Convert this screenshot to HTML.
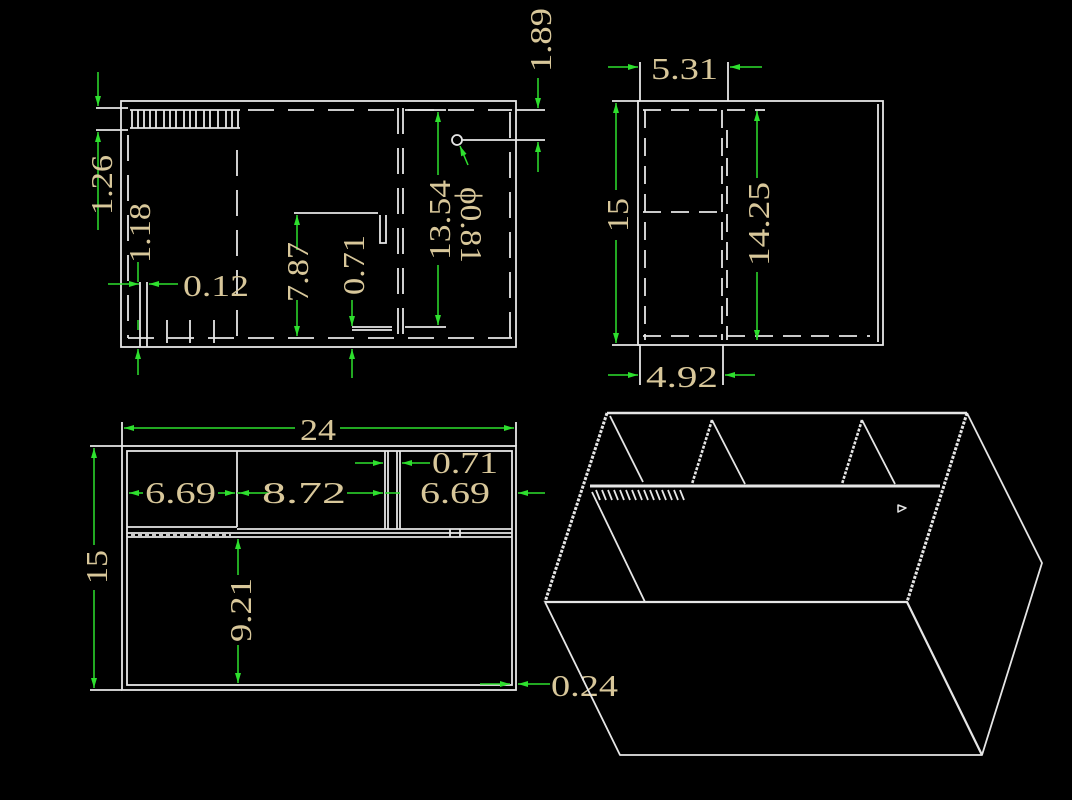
<!DOCTYPE html>
<html><head><meta charset="utf-8"><style>
html,body{margin:0;padding:0;background:#000;}
svg{display:block;}
text{font-family:"Liberation Serif",serif;fill:#d8c79a;font-size:31px;}
</style></head><body>
<svg width="1072" height="800" viewBox="0 0 1072 800" xmlns="http://www.w3.org/2000/svg">
<defs>
<marker id="a" viewBox="0 0 10 6" refX="10" refY="3" markerWidth="10" markerHeight="6" orient="auto-start-reverse" markerUnits="userSpaceOnUse"><path d="M0,0 L10,3 L0,6z" fill="#2ee02e"/></marker>
</defs>
<rect width="1072" height="800" fill="#000"/>

<!-- ===== TOP-LEFT VIEW ===== -->
<g stroke="#e6e6e6" stroke-width="1.8" fill="none">
<rect x="121" y="101" width="395" height="246"/>
<line x1="96" y1="108" x2="128" y2="108"/>
<line x1="96" y1="130" x2="128" y2="130"/>
<line x1="130" y1="110" x2="240" y2="110"/>
<line x1="130" y1="128" x2="240" y2="128"/>
<path d="M132,110v18M138,110v18M144,110v18M150,110v18M156,110v18M164,110v18M170,110v18M176,110v18M184,110v18M190,110v18M196,110v18M204,110v18M210,110v18M218,110v18M226,110v18M232,110v18M238,110v18"/>
<g stroke-dasharray="26,14">
<line x1="248" y1="110" x2="512" y2="110"/>
<line x1="128" y1="338" x2="512" y2="338"/>
<line x1="128" y1="135" x2="128" y2="338"/>
<line x1="510" y1="112" x2="510" y2="338"/>
<line x1="237" y1="150" x2="237" y2="340"/>
<line x1="398" y1="108" x2="398" y2="345"/>
<line x1="403" y1="108" x2="403" y2="345"/>
</g>
<path d="M167,320v23M190,320v23M214,320v23"/>
<line x1="140" y1="282" x2="140" y2="347"/>
<line x1="147" y1="282" x2="147" y2="347"/>
<path d="M294,213H378M380,215v28h6v-28"/>
<path d="M352,327H392M352,330H392"/>
<path d="M405,110H446M405,327H446"/>
<circle cx="457" cy="140" r="5"/>
<path d="M462,140H545M516,110H545"/>
</g>
<g stroke="#2ee02e" stroke-width="1.5" fill="none">
<line x1="98" y1="72" x2="98" y2="106" marker-end="url(#a)"/>
<line x1="98" y1="230" x2="98" y2="132" marker-end="url(#a)"/>
<line x1="138" y1="262" x2="138" y2="282"/>
<line x1="138" y1="320" x2="138" y2="330" />
<line x1="138" y1="375" x2="138" y2="349" marker-end="url(#a)"/>
<line x1="108" y1="284" x2="139" y2="284" marker-end="url(#a)"/>
<line x1="178" y1="284" x2="149" y2="284" marker-end="url(#a)"/>
<line x1="297" y1="250" x2="297" y2="215" marker-end="url(#a)"/>
<line x1="297" y1="300" x2="297" y2="336" marker-end="url(#a)"/>
<line x1="352" y1="300" x2="352" y2="326" marker-end="url(#a)"/>
<line x1="352" y1="378" x2="352" y2="349" marker-end="url(#a)"/>
<line x1="438" y1="175" x2="438" y2="112" marker-end="url(#a)"/>
<line x1="438" y1="265" x2="438" y2="325" marker-end="url(#a)"/>
<line x1="538" y1="78" x2="538" y2="108" marker-end="url(#a)"/>
<line x1="538" y1="172" x2="538" y2="142" marker-end="url(#a)"/>
<line x1="468" y1="165" x2="460" y2="146" marker-end="url(#a)"/>
</g>
<text transform="rotate(-90 101 185)" x="101" y="196" text-anchor="middle" textLength="60" lengthAdjust="spacingAndGlyphs">1.26</text>
<text transform="rotate(-90 139 233)" x="139" y="244" text-anchor="middle" textLength="60" lengthAdjust="spacingAndGlyphs">1.18</text>
<text x="183" y="296" textLength="66" lengthAdjust="spacingAndGlyphs">0.12</text>
<text transform="rotate(-90 297 272)" x="297" y="283" text-anchor="middle" textLength="60" lengthAdjust="spacingAndGlyphs">7.87</text>
<text transform="rotate(-90 353 265)" x="353" y="276" text-anchor="middle" textLength="60" lengthAdjust="spacingAndGlyphs">0.71</text>
<text transform="rotate(-90 439 220)" x="439" y="231" text-anchor="middle" textLength="80" lengthAdjust="spacingAndGlyphs">13.54</text>
<text transform="rotate(90 472 225)" x="472" y="236" text-anchor="middle" textLength="76" lengthAdjust="spacingAndGlyphs">ϕ0.81</text>
<text transform="rotate(-90 540 40)" x="540" y="51" text-anchor="middle" textLength="64" lengthAdjust="spacingAndGlyphs">1.89</text>

<!-- ===== TOP-RIGHT VIEW ===== -->
<g stroke="#e6e6e6" stroke-width="1.8" fill="none">
<rect x="638" y="101" width="245" height="244"/>
<line x1="878" y1="104" x2="878" y2="342"/>
<path d="M640,62V101M728,62V101M640,345V385M723,345V385M612,101H640M612,345H640"/>
<g stroke-dasharray="18,10">
<line x1="645" y1="110" x2="645" y2="340"/>
<line x1="722" y1="110" x2="722" y2="340"/>
<line x1="727" y1="130" x2="727" y2="340"/>
<line x1="643" y1="110" x2="765" y2="110"/>
<line x1="643" y1="212" x2="722" y2="212"/>
<line x1="643" y1="336" x2="870" y2="336"/>
</g>
</g>
<g stroke="#2ee02e" stroke-width="1.5" fill="none">
<line x1="608" y1="67" x2="638" y2="67" marker-end="url(#a)"/>
<line x1="762" y1="67" x2="730" y2="67" marker-end="url(#a)"/>
<line x1="608" y1="375" x2="638" y2="375" marker-end="url(#a)"/>
<line x1="755" y1="375" x2="725" y2="375" marker-end="url(#a)"/>
<line x1="616" y1="190" x2="616" y2="103" marker-end="url(#a)"/>
<line x1="616" y1="240" x2="616" y2="343" marker-end="url(#a)"/>
<line x1="757" y1="178" x2="757" y2="111" marker-end="url(#a)"/>
<line x1="757" y1="272" x2="757" y2="340" marker-end="url(#a)"/>
</g>
<text x="651" y="79" textLength="67" lengthAdjust="spacingAndGlyphs">5.31</text>
<text x="646" y="387" textLength="72" lengthAdjust="spacingAndGlyphs">4.92</text>
<text transform="rotate(-90 617 215)" x="617" y="226" text-anchor="middle" textLength="34" lengthAdjust="spacingAndGlyphs">15</text>
<text transform="rotate(-90 758 224)" x="758" y="235" text-anchor="middle" textLength="84" lengthAdjust="spacingAndGlyphs">14.25</text>

<!-- ===== BOTTOM-LEFT VIEW ===== -->
<g stroke="#e6e6e6" stroke-width="1.8" fill="none">
<rect x="122" y="446" width="394" height="244"/>
<rect x="127" y="451" width="385" height="234"/>
<path d="M122,422V446M516,422V446M90,446H122M90,690H122"/>
<line x1="237" y1="451" x2="237" y2="527"/>
<line x1="385" y1="451" x2="385" y2="529"/>
<line x1="388" y1="451" x2="388" y2="529"/>
<line x1="397" y1="451" x2="397" y2="529"/>
<line x1="400" y1="451" x2="400" y2="529"/>
<line x1="127" y1="527" x2="237" y2="527"/>
<line x1="237" y1="529" x2="512" y2="529"/>
<line x1="127" y1="533" x2="512" y2="533"/>
<line x1="127" y1="537" x2="512" y2="537"/>
<path d="M131,535h100" stroke-dasharray="4,3"/>
<path d="M450,529v8M460,529v8"/>
</g>
<g stroke="#2ee02e" stroke-width="1.5" fill="none">
<line x1="295" y1="428" x2="124" y2="428" marker-end="url(#a)"/>
<line x1="340" y1="428" x2="514" y2="428" marker-end="url(#a)"/>
<line x1="94" y1="545" x2="94" y2="448" marker-end="url(#a)"/>
<line x1="94" y1="590" x2="94" y2="688" marker-end="url(#a)"/>
<line x1="143" y1="493" x2="129" y2="493" marker-end="url(#a)"/>
<line x1="218" y1="493" x2="235" y2="493" marker-end="url(#a)"/>
<line x1="250" y1="493" x2="239" y2="493" marker-end="url(#a)"/>
<line x1="237" y1="493" x2="240" y2="493"/>
<line x1="248" y1="493" x2="270" y2="493"/>
<line x1="347" y1="493" x2="383" y2="493" marker-end="url(#a)"/>
<line x1="385" y1="493" x2="400" y2="493"/>
<line x1="355" y1="463" x2="383" y2="463" marker-end="url(#a)"/>
<line x1="430" y1="463" x2="402" y2="463" marker-end="url(#a)"/>
<line x1="545" y1="493" x2="518" y2="493" marker-end="url(#a)"/>
<line x1="238" y1="575" x2="238" y2="539" marker-end="url(#a)"/>
<line x1="238" y1="645" x2="238" y2="683" marker-end="url(#a)"/>
<line x1="480" y1="684" x2="510" y2="684" marker-end="url(#a)"/>
<line x1="550" y1="684" x2="518" y2="684" marker-end="url(#a)"/>
</g>
<text x="300" y="440" textLength="36" lengthAdjust="spacingAndGlyphs">24</text>
<text transform="rotate(-90 96 567)" x="96" y="578" text-anchor="middle" textLength="34" lengthAdjust="spacingAndGlyphs">15</text>
<text x="145" y="503" textLength="71" lengthAdjust="spacingAndGlyphs">6.69</text>
<text x="262" y="503" textLength="84" lengthAdjust="spacingAndGlyphs">8.72</text>
<text x="432" y="473" textLength="66" lengthAdjust="spacingAndGlyphs">0.71</text>
<text x="420" y="503" textLength="70" lengthAdjust="spacingAndGlyphs">6.69</text>
<text transform="rotate(-90 240 610)" x="240" y="621" text-anchor="middle" textLength="64" lengthAdjust="spacingAndGlyphs">9.21</text>
<text x="551" y="696" textLength="67" lengthAdjust="spacingAndGlyphs">0.24</text>

<!-- ===== 3D VIEW ===== -->
<g stroke="#e6e6e6" stroke-width="1.8" fill="none" stroke-linejoin="round">
<line x1="607" y1="413" x2="967" y2="413" stroke-width="2.6"/>
<path d="M967,413L1042,563L982,755L620,755L545,602"/>
<path d="M545,602H907L982,755" stroke-width="2.2"/>
<line x1="607" y1="413" x2="545" y2="602" stroke-width="3" stroke-dasharray="3,1.5"/>
<line x1="967" y1="413" x2="907" y2="602" stroke-width="3" stroke-dasharray="3,1.5"/>
<line x1="610" y1="416" x2="643" y2="482"/>
<line x1="590" y1="486" x2="940" y2="486" stroke-width="3"/>
<line x1="592" y1="492" x2="645" y2="602"/>
<line x1="712" y1="420" x2="692" y2="484" stroke-width="2.6" stroke-dasharray="3,1.5"/>
<line x1="712" y1="420" x2="745" y2="484"/>
<line x1="862" y1="420" x2="842" y2="484" stroke-width="2.6" stroke-dasharray="3,1.5"/>
<line x1="862" y1="420" x2="895" y2="484"/>
<path d="M596,490l4,10M602,490l4,10M608,490l4,10M614,490l4,10M620,490l4,10M626,490l4,10M632,490l4,10M638,490l4,10M644,490l4,10M650,490l4,10M656,490l4,10M662,490l4,10M668,490l4,10M674,490l4,10M680,490l4,10"/>
<path d="M898,505l8,3l-8,4z" stroke-width="1.5"/>
</g>
</svg>
</body></html>
